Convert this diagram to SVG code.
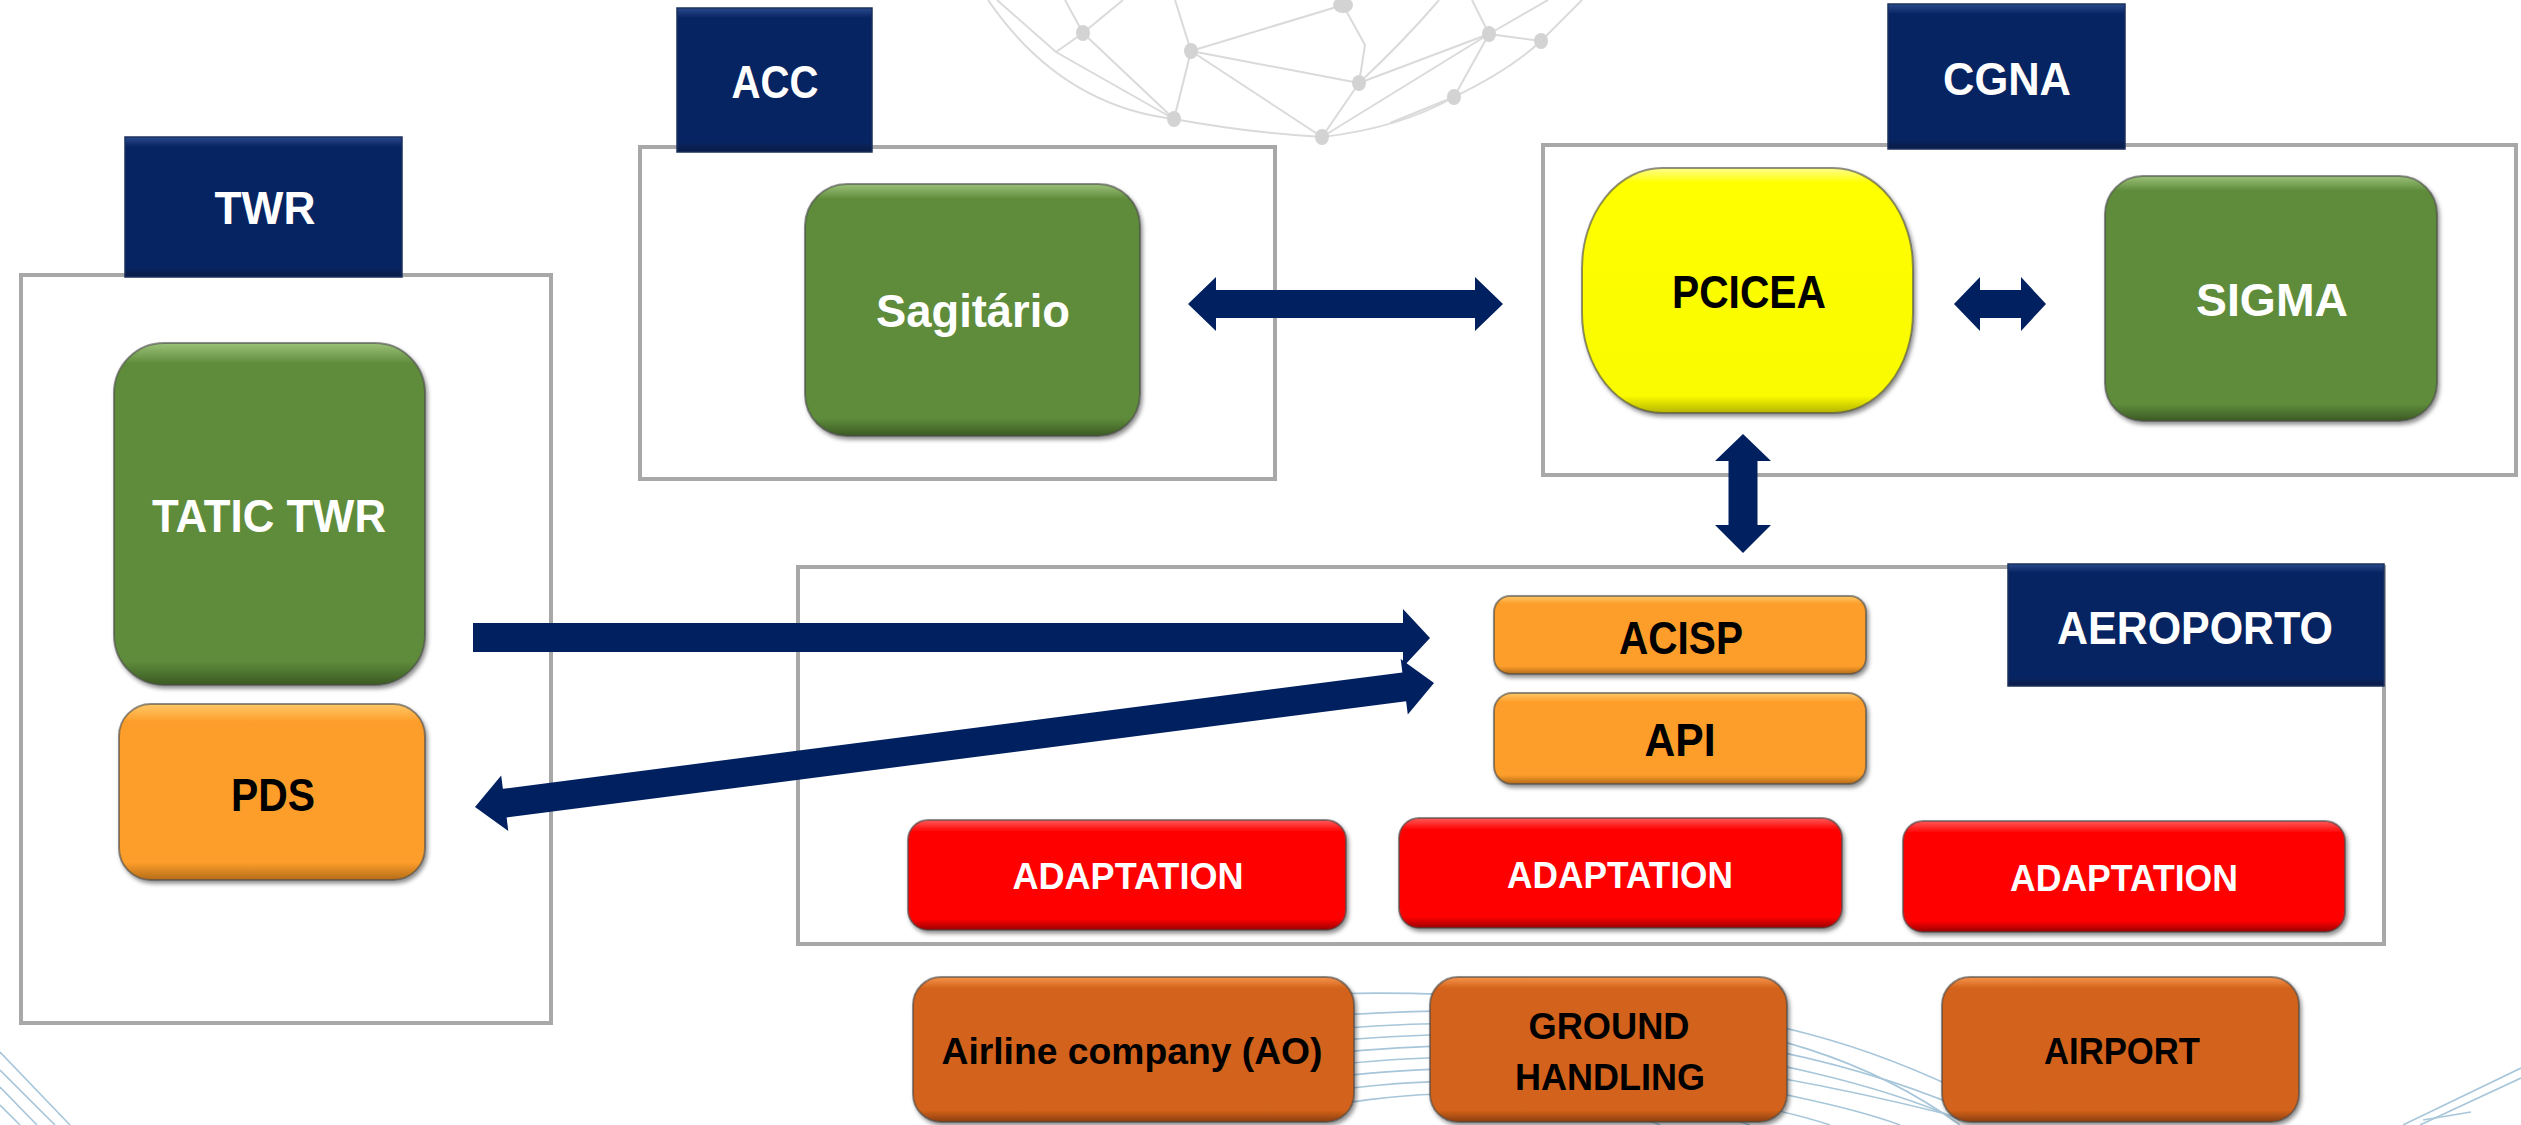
<svg xmlns="http://www.w3.org/2000/svg" width="2521" height="1125" viewBox="0 0 2521 1125">
<defs>
<linearGradient id="gNavy" x1="0" y1="0" x2="0" y2="1">
<stop offset="0" stop-color="#2a4a8c"/><stop offset="0.07" stop-color="#072462"/><stop offset="0.93" stop-color="#072462"/><stop offset="1" stop-color="#0b1c44"/>
</linearGradient>
<linearGradient id="gGreen" x1="0" y1="0" x2="0" y2="1">
<stop offset="0" stop-color="#9cc27a"/><stop offset="0.06" stop-color="#5f8c3b"/><stop offset="0.93" stop-color="#5f8c3b"/><stop offset="1" stop-color="#3b5a24"/>
</linearGradient>
<linearGradient id="gYellow" x1="0" y1="0" x2="0" y2="1">
<stop offset="0" stop-color="#ffff90"/><stop offset="0.06" stop-color="#ffff00"/><stop offset="0.93" stop-color="#fafa00"/><stop offset="1" stop-color="#b5b500"/>
</linearGradient>
<linearGradient id="gOrange" x1="0" y1="0" x2="0" y2="1">
<stop offset="0" stop-color="#ffc868"/><stop offset="0.1" stop-color="#fd9e2b"/><stop offset="0.9" stop-color="#fd9e2b"/><stop offset="1" stop-color="#b46c18"/>
</linearGradient>
<linearGradient id="gRed" x1="0" y1="0" x2="0" y2="1">
<stop offset="0" stop-color="#ff5a5a"/><stop offset="0.1" stop-color="#fe0606"/><stop offset="0.9" stop-color="#fe0606"/><stop offset="1" stop-color="#9a0000"/>
</linearGradient>
<linearGradient id="gBrown" x1="0" y1="0" x2="0" y2="1">
<stop offset="0" stop-color="#f7944c"/><stop offset="0.08" stop-color="#d2621a"/><stop offset="0.92" stop-color="#d2621a"/><stop offset="1" stop-color="#8a3e0e"/>
</linearGradient>
<filter id="sh" x="-10%" y="-10%" width="120%" height="125%">
<feDropShadow dx="2" dy="3" stdDeviation="2" flood-color="#000" flood-opacity="0.45"/>
</filter>
<style>
.cont{fill:#fff;stroke:#a8a8a8;stroke-width:4}
.lab{fill:url(#gNavy);stroke:#1b2f5e;stroke-width:1.5}
.node{stroke:#4a4a4a;stroke-opacity:0.6;stroke-width:2;filter:url(#sh)}
.green{fill:url(#gGreen)}
.yellow{fill:url(#gYellow)}
.orange{fill:url(#gOrange)}
.red{fill:url(#gRed)}
.brown{fill:url(#gBrown)}
text{font-family:"Liberation Sans",Arial,sans-serif;font-weight:bold;text-anchor:middle}
.big{font-size:47px}
.mid{font-size:36px}
.w{fill:#fff}
.k{fill:#000}
.arrow{fill:#002060}
.globe line,.globe path{stroke:#dadada;stroke-width:2;fill:none}
.globe ellipse{fill:#d3d3d3}
.wave{stroke:#a7c6da;stroke-width:1.6;fill:none}
</style>
</defs>
<rect width="2521" height="1125" fill="#fff"/>

<g id="background">
<g class="globe">
<path d="M988 0 Q1060 105 1174 119 Q1250 133 1322 137 Q1400 128 1454 97 Q1510 70 1541 41 L1582 0"/>
<path d="M997 0 L1056 52 L1174 119"/>
<line x1="1056" y1="52" x2="1083" y2="33"/>
<line x1="1083" y1="33" x2="1123" y2="0"/>
<line x1="1083" y1="33" x2="1065" y2="0"/>
<line x1="1083" y1="33" x2="1174" y2="119"/>
<line x1="1191" y1="51" x2="1175" y2="0"/>
<line x1="1191" y1="51" x2="1174" y2="119"/>
<line x1="1191" y1="51" x2="1343" y2="5"/>
<line x1="1191" y1="51" x2="1359" y2="83"/>
<line x1="1191" y1="51" x2="1322" y2="137"/>
<path d="M1343 5 L1365 45 L1359 83"/>
<line x1="1359" y1="83" x2="1322" y2="137"/>
<line x1="1359" y1="83" x2="1489" y2="34"/>
<path d="M1359 83 Q1405 40 1439 0"/>
<line x1="1489" y1="34" x2="1541" y2="41"/>
<line x1="1489" y1="34" x2="1322" y2="137"/>
<line x1="1489" y1="34" x2="1454" y2="97"/>
<line x1="1489" y1="34" x2="1472" y2="0"/>
<line x1="1489" y1="34" x2="1548" y2="0"/>
<path d="M1390 123 L1454 97"/>
<ellipse cx="1083" cy="33" rx="7" ry="8"/>
<ellipse cx="1191" cy="51" rx="7" ry="8"/>
<ellipse cx="1343" cy="5" rx="10" ry="8"/>
<ellipse cx="1359" cy="83" rx="7" ry="8"/>
<ellipse cx="1489" cy="34" rx="7" ry="8"/>
<ellipse cx="1541" cy="41" rx="7" ry="8"/>
<ellipse cx="1454" cy="97" rx="7" ry="8"/>
<ellipse cx="1174" cy="119" rx="7" ry="8"/>
<ellipse cx="1322" cy="137" rx="7" ry="8"/>
</g>
<g>
<line class="wave" x1="0" y1="1052" x2="70" y2="1125"/>
<line class="wave" x1="0" y1="1070" x2="55" y2="1125"/>
<line class="wave" x1="0" y1="1087" x2="37" y2="1125"/>
<line class="wave" x1="0" y1="1105" x2="20" y2="1125"/>
<line class="wave" x1="2403" y1="1125" x2="2521" y2="1068"/>
<line class="wave" x1="2420" y1="1125" x2="2521" y2="1078"/>
<line class="wave" x1="2423" y1="1120" x2="2471" y2="1112"/>
<path class="wave" d="M1300 995 C1400 990 1480 995 1620 1005 C1760 1015 1860 1040 1980 1100"/>
<path class="wave" d="M1300 1018 C1400 1010 1480 1008 1620 1015 C1760 1025 1870 1060 1960 1125"/>
<path class="wave" d="M1300 1032 C1400 1022 1480 1020 1620 1030 C1760 1040 1880 1070 1990 1120"/>
<path class="wave" d="M1300 1044 C1400 1034 1480 1030 1620 1042 C1760 1055 1880 1085 1960 1120"/>
<path class="wave" d="M1300 1056 C1400 1046 1480 1040 1620 1055 C1760 1070 1870 1095 1942 1113"/>
<path class="wave" d="M1300 1068 C1400 1058 1480 1050 1620 1068 C1760 1085 1860 1110 1900 1125"/>
<path class="wave" d="M1300 1080 C1400 1070 1480 1060 1620 1082 C1740 1100 1800 1115 1830 1125"/>
<path class="wave" d="M1300 1094 C1400 1082 1470 1072 1620 1096 C1700 1108 1730 1118 1750 1125"/>
<path class="wave" d="M1300 1110 C1400 1094 1460 1084 1600 1110 C1630 1116 1650 1120 1660 1125"/>
</g>
</g>

<g id="containers">
<rect id="twr-box" class="cont" x="21" y="275" width="530" height="748"/>
<rect id="acc-box" class="cont" x="640" y="147" width="635" height="332"/>
<rect id="cgna-box" class="cont" x="1543" y="145" width="973" height="330"/>
<rect id="aeroporto-box" class="cont" x="798" y="567" width="1586" height="377"/>
</g>

<g id="connectors">
<polygon class="arrow" points="1188,304 1216,277 1216,290 1475,290 1475,277 1503,304 1475,331 1475,318 1216,318 1216,331"/>
<polygon class="arrow" points="1954,304 1980,277 1980,290 2021,290 2021,277 2046,304 2021,331 2021,318 1980,318 1980,331"/>
<polygon class="arrow" points="1743,434 1771,461 1757.5,461 1757.5,525 1771,525 1743,553 1715,525 1728.5,525 1728.5,461 1715,461"/>
<polygon class="arrow" points="473,623 1403,623 1403,609 1430,638 1403,667 1403,652 473,652"/>
<polygon class="arrow" points="475,807 501.2,775.4 502.9,788.8 1402.4,672.5 1400.7,659.1 1434,683 1407.8,714.6 1406.1,701.2 506.6,817.5 508.3,830.9"/>
</g>

<g id="twr-label"><rect class="lab" x="125" y="137" width="277" height="140"/><text class="big w" x="265" y="224" textLength="101" lengthAdjust="spacingAndGlyphs">TWR</text></g>
<g id="acc-label"><rect class="lab" x="677" y="8" width="195" height="144"/><text class="big w" x="775" y="98" textLength="87" lengthAdjust="spacingAndGlyphs">ACC</text></g>
<g id="cgna-label"><rect class="lab" x="1888" y="4" width="237" height="145"/><text class="big w" x="2007" y="95" textLength="128" lengthAdjust="spacingAndGlyphs">CGNA</text></g>
<g id="aeroporto-label"><rect class="lab" x="2008" y="564" width="376" height="122"/><text class="big w" x="2195" y="644" textLength="276" lengthAdjust="spacingAndGlyphs">AEROPORTO</text></g>

<g id="tatic-twr"><rect class="node green" x="114" y="343" width="311" height="342" rx="50"/><text class="big w" x="269" y="532" textLength="234" lengthAdjust="spacingAndGlyphs">TATIC TWR</text></g>
<g id="pds"><rect class="node orange" x="119" y="704" width="306" height="176" rx="32"/><text class="big k" x="273" y="811" textLength="84" lengthAdjust="spacingAndGlyphs">PDS</text></g>
<g id="sagitario"><rect class="node green" x="805" y="184" width="335" height="252" rx="42"/><text class="big w" x="973" y="327" textLength="194" lengthAdjust="spacingAndGlyphs">Sagitário</text></g>
<g id="pcicea"><rect class="node yellow" x="1582" y="168" width="331" height="245" rx="80" ry="100"/><text class="big k" x="1749" y="308" textLength="154" lengthAdjust="spacingAndGlyphs">PCICEA</text></g>
<g id="sigma"><rect class="node green" x="2105" y="176" width="332" height="245" rx="38"/><text class="big w" x="2272" y="316" textLength="152" lengthAdjust="spacingAndGlyphs">SIGMA</text></g>
<g id="acisp"><rect class="node orange" x="1494" y="596" width="372" height="78" rx="16"/><text class="big k" x="1681" y="654" textLength="124" lengthAdjust="spacingAndGlyphs">ACISP</text></g>
<g id="api"><rect class="node orange" x="1494" y="693" width="372" height="91" rx="18"/><text class="big k" x="1680" y="756" textLength="71" lengthAdjust="spacingAndGlyphs">API</text></g>
<g id="adaptation-1"><rect class="node red" x="908" y="820" width="438" height="110" rx="20"/><text class="mid w" x="1128" y="889" textLength="231" lengthAdjust="spacingAndGlyphs">ADAPTATION</text></g>
<g id="adaptation-2"><rect class="node red" x="1399" y="818" width="443" height="110" rx="20"/><text class="mid w" x="1620" y="888" textLength="226" lengthAdjust="spacingAndGlyphs">ADAPTATION</text></g>
<g id="adaptation-3"><rect class="node red" x="1903" y="821" width="442" height="111" rx="20"/><text class="mid w" x="2124" y="891" textLength="228" lengthAdjust="spacingAndGlyphs">ADAPTATION</text></g>
<g id="airline"><rect class="node brown" x="913" y="977" width="441" height="145" rx="28"/><text class="mid k" x="1132" y="1064" font-size="37" textLength="381" lengthAdjust="spacingAndGlyphs">Airline company (AO)</text></g>
<g id="ground-handling"><rect class="node brown" x="1430" y="977" width="357" height="145" rx="28"/><text class="mid k" x="1609" y="1039" textLength="161" lengthAdjust="spacingAndGlyphs">GROUND</text><text class="mid k" x="1610" y="1090" textLength="190" lengthAdjust="spacingAndGlyphs">HANDLING</text></g>
<g id="airport"><rect class="node brown" x="1942" y="977" width="357" height="145" rx="28"/><text class="mid k" x="2122" y="1064" textLength="156" lengthAdjust="spacingAndGlyphs">AIRPORT</text></g>
</svg>
